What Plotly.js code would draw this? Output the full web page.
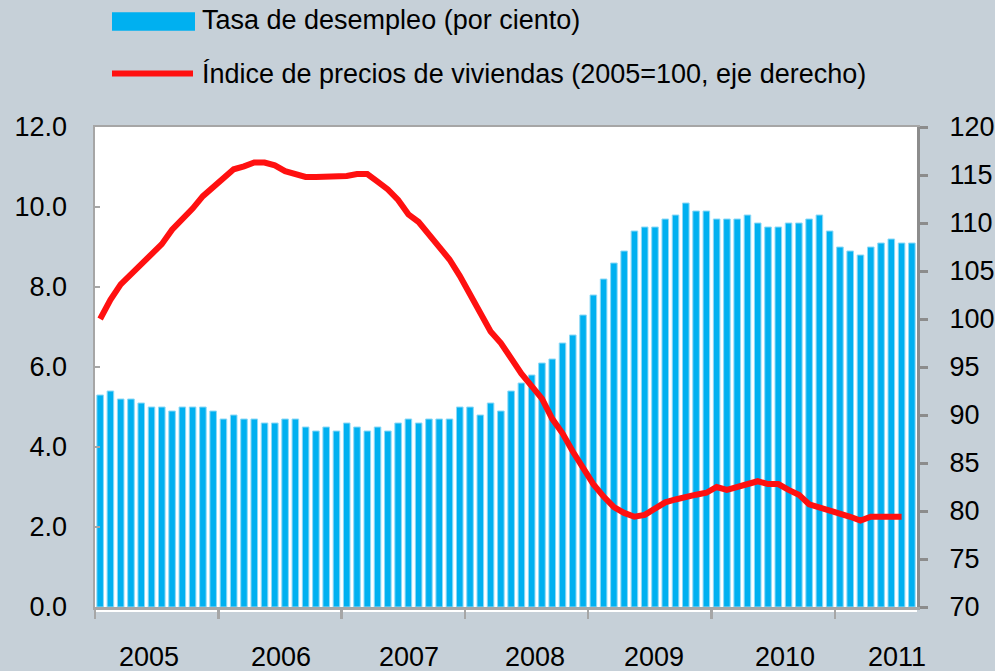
<!DOCTYPE html>
<html>
<head>
<meta charset="utf-8">
<script src="https://cdn.plot.ly/plotly-3.0.1.min.js"></script>
<style>
html,body{margin:0;padding:0;background:#c6d0d8;}
#chart{width:995px;height:671px;}
</style>
</head>
<body>
<div id="chart"></div>
<script>
// ---- data ----
const years = ['2005','2006','2007','2008','2009','2010','2011'];
const months = [];
for (let y = 2005; y <= 2011; y++) {
  for (let m = 1; m <= 12; m++) {
    if (y === 2011 && m > 8) break;
    months.push(y + '-' + String(m).padStart(2, '0'));
  }
}
const unemployment = [
  5.3,5.4,5.2,5.2,5.1,5.0,5.0,4.9,5.0,5.0,5.0,4.9,
  4.7,4.8,4.7,4.7,4.6,4.6,4.7,4.7,4.5,4.4,4.5,4.4,
  4.6,4.5,4.4,4.5,4.4,4.6,4.7,4.6,4.7,4.7,4.7,5.0,
  5.0,4.8,5.1,4.9,5.4,5.6,5.8,6.1,6.2,6.6,6.8,7.3,
  7.8,8.2,8.6,8.9,9.4,9.5,9.5,9.7,9.8,10.1,9.9,9.9,
  9.7,9.7,9.7,9.8,9.6,9.5,9.5,9.6,9.6,9.7,9.8,9.4,
  9.0,8.9,8.8,9.0,9.1,9.2,9.1,9.1
];
const housePrice = [
  100.0,102.0,103.6,104.6,105.6,106.6,107.8,109.3,110.3,111.5,112.8,113.8,
  114.8,115.6,115.9,116.3,116.3,116.0,115.4,115.1,114.8,114.8,114.8,114.8,
  114.9,115.1,115.1,114.3,113.5,112.4,110.9,110.1,108.8,107.7,106.2,104.5,
  102.5,100.4,98.7,97.5,95.8,94.3,93.0,91.7,89.6,88.1,86.2,84.4,
  82.8,81.5,80.4,79.8,79.4,79.6,80.3,80.9,81.2,81.5,81.7,81.9,
  82.5,82.2,82.5,82.8,83.1,82.8,82.8,82.2,81.7,80.7,80.4,80.0,
  79.7,79.4,79.0,79.4,79.4,79.4,79.4
];
const seriesNames = ['Tasa de desempleo (por ciento)', 'Índice de precios de viviendas (2005=100, eje derecho)'];

// ---- layout helpers ----
const idx = months.map((_, i) => i);
const yearBoundaries = years.map((_, k) => 12 * k - 0.5);
const yearLabelPos = [4.76, 17.6, 30.1, 42.3, 53.9, 66.7, 77.6];

const FONT = 'Liberation Sans, Arial, sans-serif';
const FS = 27;
const BAR = '#00b0f0';
const RED = '#ff1010';

const traces = [
  {
    type: 'bar', x: idx, y: unemployment, name: seriesNames[0],
    marker: { color: BAR, line: { color: '#8fd9f6', width: 1 } },
    xaxis: 'x', yaxis: 'y', showlegend: false, hoverinfo: 'y'
  },
  {
    type: 'scatter', mode: 'lines', x: idx.slice(0, housePrice.length), y: housePrice, name: seriesNames[1],
    line: { color: RED, width: 6 },
    xaxis: 'x', yaxis: 'y2', showlegend: false, hoverinfo: 'y'
  }
];

const L = 95, R = 917, T = 127, B = 607;
const W = R - L, H = B - T;
const px = v => (v - L) / W;
const py = v => (B - v) / H;

const annotations = years.map((yr, k) => ({
  text: yr, x: yearLabelPos[k], xref: 'x', y: py(656.5), yref: 'paper',
  xanchor: 'center', yanchor: 'middle', showarrow: false,
  font: { family: FONT, size: FS, color: '#000' }
}));
annotations.push({
  text: seriesNames[0], x: px(200), xref: 'paper', y: py(20.5), yref: 'paper',
  xanchor: 'left', yanchor: 'middle', showarrow: false,
  font: { family: FONT, size: FS, color: '#000' }
});
annotations.push({
  text: seriesNames[1], x: px(200), xref: 'paper', y: py(74), yref: 'paper',
  xanchor: 'left', yanchor: 'middle', showarrow: false,
  font: { family: FONT, size: FS, color: '#000' }
});

const shapes = [
  // white strip below the x axis line
  { type: 'rect', xref: 'paper', yref: 'paper', x0: 0, x1: 1, y0: py(612), y1: 0,
    fillcolor: '#ffffff', line: { width: 0 }, layer: 'below' },
  // legend swatches
  { type: 'rect', xref: 'paper', yref: 'paper', x0: px(112), x1: px(195), y0: py(30.7), y1: py(12.3),
    fillcolor: BAR, line: { width: 0 } },
  { type: 'line', xref: 'paper', yref: 'paper', x0: px(112), x1: px(193), y0: py(73.5), y1: py(73.5),
    line: { color: RED, width: 6 } }
];

const layout = {
  width: 995, height: 671,
  margin: { l: L, r: 995 - R, t: T, b: 671 - B, pad: 0 },
  paper_bgcolor: '#c6d0d8',
  plot_bgcolor: '#ffffff',
  bargap: 0.36,
  showlegend: false,
  font: { family: FONT, size: FS, color: '#000' },
  xaxis: {
    range: [-0.5, months.length - 0.5], fixedrange: true,
    tickmode: 'array', tickvals: yearBoundaries, ticktext: yearBoundaries.map(() => ''),
    showticklabels: false,
    ticks: 'outside', ticklen: 9, tickwidth: 2.5, tickcolor: '#a6a6a6',
    showline: true, linecolor: '#a6a6a6', linewidth: 2.5, mirror: true,
    showgrid: false, zeroline: false
  },
  yaxis: {
    range: [0, 12], dtick: 2, tick0: 0, tickformat: '.1f',
    ticks: 'inside', ticklen: 5, tickwidth: 2, tickcolor: '#a6a6a6',
    showline: true, linecolor: '#a6a6a6', linewidth: 2.5,
    showgrid: false, zeroline: false, ticklabelstandoff: 20,
    tickfont: { family: FONT, size: FS, color: '#000' }
  },
  yaxis2: {
    range: [70, 120], dtick: 5, tick0: 70, overlaying: 'y', side: 'right',
    ticks: 'outside', ticklen: 8, tickwidth: 3, tickcolor: '#8c8c8c',
    showline: true, linecolor: '#8c8c8c', linewidth: 3,
    showgrid: false, zeroline: false, ticklabelstandoff: 16,
    tickfont: { family: FONT, size: FS, color: '#000' }
  },
  annotations: annotations,
  shapes: shapes
};

Plotly.newPlot('chart', traces, layout, { displayModeBar: false, staticPlot: true });
</script>
</body>
</html>
